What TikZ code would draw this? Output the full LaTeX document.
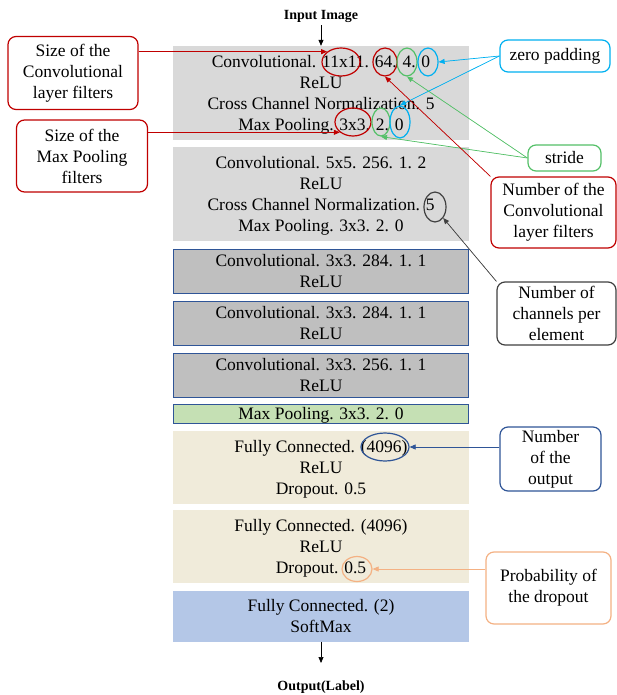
\documentclass[tikz,border=0pt]{standalone}
\usepackage{fontspec}
\setmainfont{Liberation Serif}
\usetikzlibrary{positioning, arrows.meta, shapes.geometric, calc}
\definecolor{convgray}{RGB}{217,217,217}
\definecolor{deepgray}{RGB}{191,191,191}
\definecolor{frameblue}{RGB}{47,85,151}
\definecolor{poolgreen}{RGB}{197,224,180}
\definecolor{fcbeige}{RGB}{240,235,218}
\definecolor{softblue}{RGB}{180,199,231}
\definecolor{notered}{RGB}{192,0,0}
\definecolor{notecyan}{RGB}{0,176,240}
\definecolor{notegreen}{RGB}{84,192,104}
\definecolor{noteorange}{RGB}{244,177,131}
\definecolor{notegray}{RGB}{64,64,64}

\begin{document}
\begin{tikzpicture}[
  x=1pt, y=-1pt,
  node distance=7pt,
  layer/.style={minimum width=296pt, inner sep=0pt, align=center, text depth=0pt,
                font=\fontsize{17.5}{21}\selectfont},
  lightlayer/.style={layer, fill=convgray},
  darklayer/.style={layer, fill=deepgray, draw=frameblue, line width=1pt, minimum width=295pt},
  poollayer/.style={layer, fill=poolgreen, draw=frameblue, line width=1pt, minimum width=295pt},
  fclayer/.style={layer, fill=fcbeige},
  outlayer/.style={layer, fill=softblue},
  note/.style={draw=#1, fill=white, rounded corners=8pt, line width=1.2pt,
               inner sep=2pt, align=center, font=\fontsize{17.5}{21}\selectfont},
  ring/.style={ellipse, draw=#1, line width=1.2pt, inner sep=0pt},
  arr/.style={-{Triangle[length=6pt, width=5pt]}, line width=0.7pt, draw=#1, fill=#1},
  io/.style={font=\bfseries\fontsize{14}{16}\selectfont, inner sep=3pt},
]
  \useasboundingbox (0,0) rectangle (617,695);

  % layer stack
  \node[io] (inp) at (321,16) {Input Image};
  \node[lightlayer, minimum height=94pt] (l1) at (321,93)
    {Convolutional. 11x11. 64. 4. 0\\ReLU\\Cross Channel Normalization. 5\\Max Pooling. 3x3. 2. 0};
  \node[lightlayer, minimum height=94pt, below=of l1] (l2)
    {Convolutional. 5x5. 256. 1. 2\\ReLU\\Cross Channel Normalization. 5\\Max Pooling. 3x3. 2. 0};
  \node[darklayer, minimum height=44pt, below=of l2] (l3) {Convolutional. 3x3. 284. 1. 1\\ReLU};
  \node[darklayer, minimum height=44pt, below=of l3] (l4) {Convolutional. 3x3. 284. 1. 1\\ReLU};
  \node[darklayer, minimum height=44pt, below=of l4] (l5) {Convolutional. 3x3. 256. 1. 1\\ReLU};
  \node[poollayer, minimum height=19pt, below=6pt of l5] (l6) {Max Pooling. 3x3. 2. 0};
  \node[fclayer, minimum height=73pt, below=of l6] (l7) {Fully Connected. (4096)\\ReLU\\Dropout. 0.5};
  \node[fclayer, minimum height=73pt, below=6pt of l7] (l8) {Fully Connected. (4096)\\ReLU\\Dropout. 0.5};
  \node[outlayer, minimum height=51pt, below=of l8] (l9) {Fully Connected. (2)\\SoftMax};
  \coordinate (outtip) at (321,663);
  \node[io] (outl) at (321,687) {Output(Label)};

  \draw[arr=black] (inp) -- (l1);
  \draw[arr=black] (l9) -- (outtip);

  % rings round the values
  \node[ring=notered, minimum width=38pt, minimum height=28pt] (e11) at (341,62) {};
  \node[ring=notered, minimum width=24pt, minimum height=28pt] (e64) at (385,62) {};
  \node[ring=notegreen, minimum width=20pt, minimum height=28pt] (e4) at (407,62) {};
  \node[ring=notecyan, minimum width=20pt, minimum height=28pt] (e0a) at (428,62) {};
  \node[ring=notered, minimum width=36pt, minimum height=28pt] (e3x3) at (353,122) {};
  \node[ring=notegreen, minimum width=18pt, minimum height=28pt] (e2) at (381,122) {};
  \node[ring=notecyan, minimum width=20pt, minimum height=32pt] (e0b) at (400,122) {};
  \node[ring=notegray, minimum width=22pt, minimum height=30pt] (e5) at (435,207) {};
  \node[ring=frameblue, minimum width=48pt, minimum height=28pt] (e4096) at (385,447) {};
  \node[ring=noteorange, minimum width=30pt, minimum height=25pt] (e05) at (357,569) {};

  % notes
  \node[note=notered, minimum width=130pt, minimum height=73pt] (csize) at (73,73)
    {Size of the\\Convolutional\\layer filters};
  \node[note=notered, minimum width=131pt, minimum height=72pt] (psize) at (82,156)
    {Size of the\\Max Pooling\\filters};
  \node[note=notecyan, minimum width=110pt, minimum height=32pt] (zpad) at (555,56) {zero padding};
  \node[note=notegreen, minimum width=73pt, minimum height=26pt] (stride) at (564.5,158) {stride};
  \node[note=notered, minimum width=125pt, minimum height=71pt] (nconv) at (553.5,212.5)
    {Number of the\\Convolutional\\layer filters};
  \node[note=notegray, minimum width=119pt, minimum height=63pt] (chan) at (556.5,313.5)
    {Number of\\channels per\\element};
  \node[note=frameblue, minimum width=101pt, minimum height=64pt] (outnum) at (550.5,459)
    {Number\\of the\\output};
  \node[note=noteorange, minimum width=125pt, minimum height=72pt] (prob) at (548.5,588)
    {Probability of\\the dropout};

  \draw[arr=notered] (csize.east |- e11.north west) -- (e11.north west);
  \draw[arr=notered] (psize.east |- e3x3.south west) -- (e3x3.south west);
  \draw[arr=notecyan] (zpad.west) -- (e0a.east);
  \draw[arr=notecyan] (zpad.west) -- (e0b.north);
  \draw[arr=notegreen] (stride.west) -- (e4.south);
  \draw[arr=notegreen] (stride.west) -- (e2.south);
  \draw[arr=notered] (nconv.north west) -- (e64.south);
  \draw[arr=notegray] (chan.north west) -- (e5.south east);
  \draw[arr=frameblue] (e4096.east -| outnum.west) -- (e4096.east);
  \draw[arr=noteorange] (e05.east -| prob.west) -- (e05.east);
\end{tikzpicture}
\end{document}
